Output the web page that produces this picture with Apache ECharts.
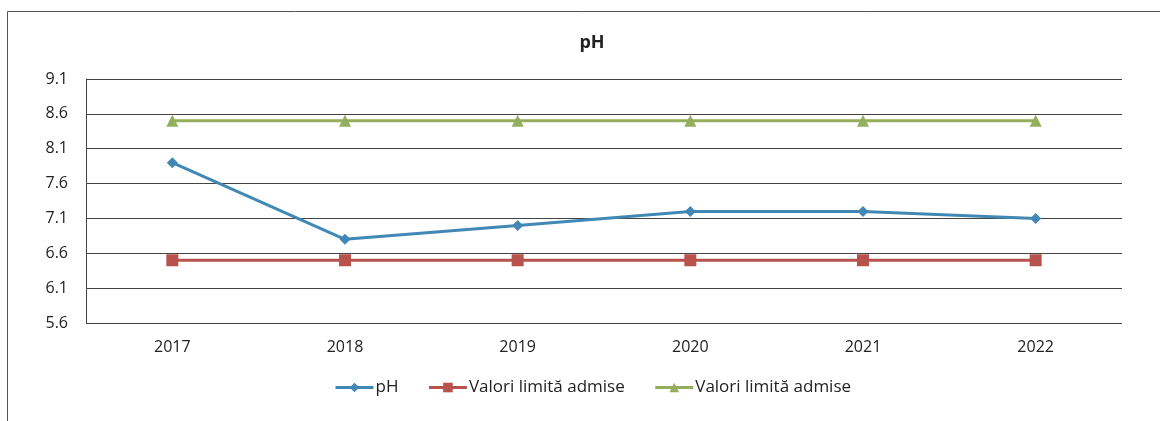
<!DOCTYPE html>
<html>
<head>
<meta charset="utf-8">
<script src="https://cdn.jsdelivr.net/npm/echarts@6/dist/echarts.min.js"></script>
<style>
html,body{margin:0;padding:0;background:#fff;}
#c{width:1160px;height:421px;}
</style>
</head>
<body>
<div id="c"></div>
<script>
const years = ['2017', '2018', '2019', '2020', '2021', '2022'];
const phValues = [7.9, 6.8, 7.0, 7.2, 7.2, 7.1];
const limitMin = [6.5, 6.5, 6.5, 6.5, 6.5, 6.5];
const limitMax = [8.5, 8.5, 8.5, 8.5, 8.5, 8.5];
const seriesNames = ['pH', 'Valori limită admise', 'Valori limită admise'];
const chartTitle = 'pH';

const font = '"Open Sans", "Noto Sans", sans-serif';
const chart = echarts.init(document.getElementById('c'), null, {renderer: 'canvas'});
chart.setOption({
  animation: false,
  backgroundColor: '#fff',
  graphic: [
    {type: 'line', shape: {x1: 7.5, y1: 11.5, x2: 1160, y2: 11.5}, style: {stroke: '#555', lineWidth: 1}},
    {type: 'line', shape: {x1: 7.5, y1: 11.5, x2: 7.5, y2: 421}, style: {stroke: '#555', lineWidth: 1}}
  ],
  title: {
    text: chartTitle,
    left: 587, top: 29, textAlign: 'center',
    textStyle: {fontFamily: font, fontSize: 18, fontWeight: 'bold', color: '#222'}
  },
  grid: {left: 86, right: 38, top: 79, bottom: 98},
  legend: {
    top: 374, left: 329,
    itemWidth: 38, itemHeight: 12, itemGap: 29,
    lineStyle: {width: 3},
    textStyle: {fontFamily: font, fontSize: 17, color: '#222', padding: [0, 0, 0, -3]},
    data: [
      {name: 'pH'},
      {name: 'Valori limită admise'},
      {name: 'Valori limită admise '}
    ]
  },
  xAxis: {
    type: 'category',
    data: years,
    boundaryGap: true,
    axisLine: {show: false},
    axisTick: {show: false},
    axisLabel: {fontFamily: font, fontSize: 16, color: '#222', margin: 16}
  },
  yAxis: {
    type: 'value',
    min: 5.6, max: 9.1, interval: 0.5,
    axisLine: {show: true, lineStyle: {color: '#444', width: 1}},
    axisTick: {show: false},
    axisLabel: {fontFamily: font, fontSize: 16, color: '#222', margin: 18, formatter: v => v.toFixed(1)},
    splitLine: {show: true, lineStyle: {color: '#444', width: 1}}
  },
  series: [
    {
      name: seriesNames[0], type: 'line', data: phValues,
      symbol: 'diamond', symbolSize: 11,
      lineStyle: {color: '#4189b4', width: 3},
      itemStyle: {color: '#4189b4'}
    },
    {
      name: seriesNames[1], type: 'line', data: limitMin,
      symbol: 'rect', symbolSize: 12,
      lineStyle: {color: '#b8524c', width: 3},
      itemStyle: {color: '#b8524c'}
    },
    {
      name: seriesNames[2] + ' ', type: 'line', data: limitMax,
      symbol: 'triangle', symbolSize: 12,
      lineStyle: {color: '#93ae5c', width: 3},
      itemStyle: {color: '#93ae5c'}
    }
  ]
});
</script>
</body>
</html>
